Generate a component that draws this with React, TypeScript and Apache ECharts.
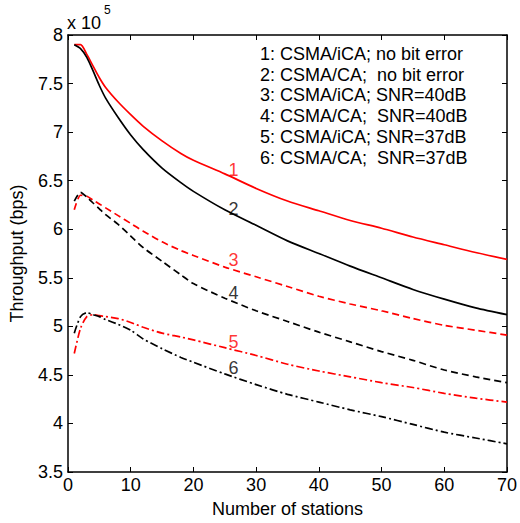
import React, { useEffect, useRef } from "react";
import * as echarts from "echarts";

const stations = [1, 2, 3, 4, 5, 6, 8, 10, 12, 15, 18, 20, 25, 30, 35, 40, 45, 50, 55, 60, 65, 70];
const iCaNoErr = [7.9, 7.9, 7.8, 7.68, 7.56, 7.46, 7.31, 7.18, 7.06, 6.91, 6.78, 6.71, 6.57, 6.42, 6.29, 6.19, 6.09, 6.01, 5.92, 5.84, 5.76, 5.69];
const caNoErr = [7.9, 7.86, 7.77, 7.63, 7.48, 7.35, 7.15, 6.97, 6.82, 6.63, 6.48, 6.39, 6.2, 6.04, 5.88, 5.75, 5.62, 5.5, 5.38, 5.28, 5.19, 5.12];
const iCa40 = [6.2, 6.35, 6.34, 6.3, 6.26, 6.22, 6.14, 6.06, 5.98, 5.87, 5.78, 5.73, 5.61, 5.51, 5.41, 5.31, 5.23, 5.16, 5.08, 5.01, 4.96, 4.91];
const ca40 = [6.29, 6.38, 6.33, 6.27, 6.21, 6.15, 6.05, 5.93, 5.81, 5.67, 5.53, 5.44, 5.29, 5.16, 5.05, 4.94, 4.84, 4.74, 4.65, 4.55, 4.48, 4.42];
const iCa37 = [4.72, 4.98, 5.1, 5.12, 5.11, 5.1, 5.08, 5.04, 4.99, 4.93, 4.89, 4.86, 4.78, 4.7, 4.61, 4.54, 4.48, 4.42, 4.37, 4.31, 4.26, 4.22];
const ca37 = [4.93, 5.1, 5.14, 5.12, 5.1, 5.07, 5.02, 4.96, 4.87, 4.77, 4.68, 4.63, 4.51, 4.4, 4.3, 4.22, 4.14, 4.07, 3.99, 3.91, 3.85, 3.79];

const curveLabels = ["1", "2", "3", "4", "5", "6"];
const curveLabelX = [26.4, 26.4, 26.4, 26.4, 26.4, 26.4];
const curveLabelY = [6.61, 6.205, 5.683, 5.346, 4.842, 4.567];

const legendLines = [
  "1: CSMA/iCA; no bit error",
  "2: CSMA/CA;  no bit error",
  "3: CSMA/iCA; SNR=40dB",
  "4: CSMA/CA;  SNR=40dB",
  "5: CSMA/iCA; SNR=37dB",
  "6: CSMA/CA;  SNR=37dB",
];

const xTicks = { min: 0, max: 70, interval: 10 };
const yTicks = { min: 3.5, max: 8, interval: 0.5 };

const FONT = "'Liberation Sans', Arial, sans-serif";
const RED = "#ff0000";
const BLACK = "#000000";

export default function App() {
  const ref = useRef<HTMLDivElement>(null);
  useEffect(() => {
    document.body.style.margin = "0";
    const chart = echarts.init(ref.current!, null, { renderer: "svg" });
    const mk = (vals: number[]) => stations.map((s, i) => [s, vals[i]]);
    const lineSeries = (
      name: string,
      vals: number[],
      color: string,
      type: "solid" | number[]
    ) => ({
      name,
      type: "line",
      data: mk(vals),
      showSymbol: false,
      symbol: "none",
      smooth: 0.25,
      lineStyle: { color, width: 1.7, type },
      xAxisIndex: 0,
      yAxisIndex: 0,
      z: 3,
    });
    const dashed = [7, 4];
    const dashDot = [8, 3, 2, 3];
    const labelColors = [RED, BLACK, RED, BLACK, RED, BLACK];

    const axisCommon = {
      axisLine: { show: true, onZero: false, lineStyle: { color: BLACK, width: 1.5 } },
      axisTick: { show: true, inside: true, length: 5, lineStyle: { color: BLACK, width: 1 } },
      splitLine: { show: false },
    };

    chart.setOption({
      animation: false,
      backgroundColor: "#ffffff",
      grid: { left: 67, top: 35, right: 12, bottom: 51, containLabel: false },
      xAxis: [
        {
          type: "value",
          ...xTicks,
          position: "bottom",
          ...axisCommon,
          axisLabel: { color: BLACK, fontSize: 18, fontFamily: FONT, margin: 4 },
          name: "Number of stations",
          nameLocation: "middle",
          nameGap: 28,
          nameTextStyle: { color: BLACK, fontSize: 18, fontFamily: FONT },
        },
        {
          type: "value",
          ...xTicks,
          position: "top",
          ...axisCommon,
          axisLabel: { show: false },
        },
      ],
      yAxis: [
        {
          type: "value",
          ...yTicks,
          position: "left",
          ...axisCommon,
          axisLabel: { color: BLACK, fontSize: 18, fontFamily: FONT, margin: 5 },
          name: "Throughput (bps)",
          nameLocation: "middle",
          nameGap: 42,
          nameTextStyle: { color: BLACK, fontSize: 18, fontFamily: FONT },
        },
        {
          type: "value",
          ...yTicks,
          position: "right",
          ...axisCommon,
          axisLabel: { show: false },
        },
      ],
      series: [
        lineSeries("1", iCaNoErr, RED, "solid"),
        lineSeries("2", caNoErr, BLACK, "solid"),
        lineSeries("3", iCa40, RED, dashed),
        lineSeries("4", ca40, BLACK, dashed),
        lineSeries("5", iCa37, RED, dashDot),
        lineSeries("6", ca37, BLACK, dashDot),
        {
          type: "scatter",
          symbolSize: 0,
          silent: true,
          z: 5,
          data: curveLabels.map((t, i) => ({
            value: [curveLabelX[i], curveLabelY[i]],
            label: {
              show: true,
              position: "inside",
              formatter: t,
              color: labelColors[i],
              fontSize: 18,
              fontFamily: FONT,
            },
          })),
        },
      ],
      graphic: [
        ...legendLines.map((t, i) => ({
          type: "text",
          left: 260,
          top: 45 + i * 20.7,
          style: {
            text: t,
            fill: BLACK,
            fontSize: 18,
            fontFamily: FONT,
            textVerticalAlign: "top",
          },
        })),
        {
          type: "text",
          left: 67,
          top: 4,
          style: {
            text: "{a|x 10}{b|5}",
            rich: {
              a: { fontSize: 18, fontFamily: FONT, fill: BLACK, color: BLACK, verticalAlign: "bottom", padding: [10, 0, 0, 0] },
              b: { fontSize: 12, fontFamily: FONT, fill: BLACK, color: BLACK, verticalAlign: "top", padding: [0, 0, 10, 3] },
            },
          },
        },
      ],
    });
    return () => chart.dispose();
  }, []);
  return <div ref={ref} style={{ width: 520, height: 523 }} />;
}
